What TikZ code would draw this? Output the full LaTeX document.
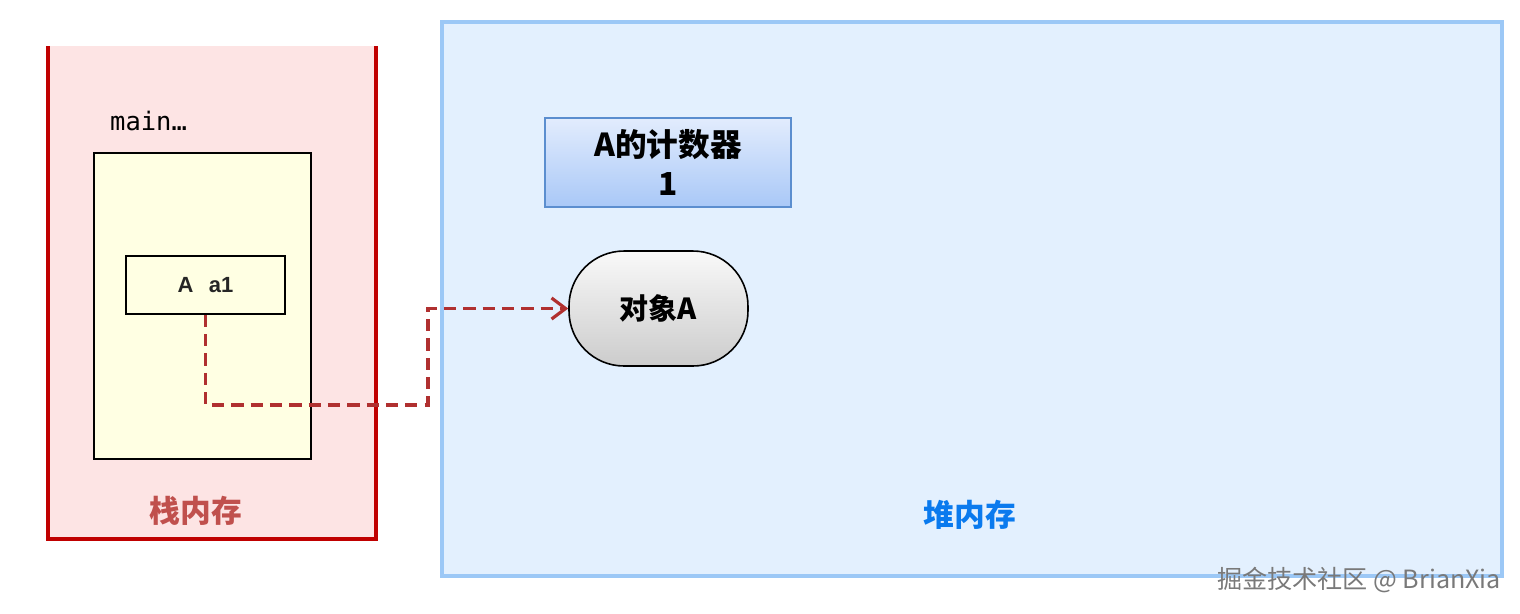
\documentclass[tikz,border=0pt]{standalone}
\usepackage{fontspec}
\usepackage{xcolor}
\newfontfamily\cjk{Noto Sans CJK SC}
\newfontfamily\codefont{DejaVu Sans Mono}
\newfontfamily\varfont{Liberation Sans}
\usetikzlibrary{arrows.meta}

\definecolor{stackfill}{HTML}{FDE4E4}
\definecolor{stackline}{HTML}{C00000}
\definecolor{stacktext}{HTML}{C0504D}
\definecolor{framefill}{HTML}{FFFFE3}
\definecolor{heapfill}{HTML}{E3F0FE}
\definecolor{heapline}{HTML}{9CC8F6}
\definecolor{heaptext}{HTML}{0A7AEE}
\definecolor{countertop}{HTML}{E2ECFD}
\definecolor{counterbot}{HTML}{A9C8F7}
\definecolor{counterline}{HTML}{5B8ECF}
\definecolor{linkred}{HTML}{B03030}

\begin{document}
\begin{tikzpicture}[x=0.02cm, y=-0.02cm, >={Straight Barb[length=8pt,width=12pt,line width=1.8pt]},
    memtext/.style={font=\cjk\bfseries\fontsize{17.5}{21}\selectfont},
    link/.style={->, linkred, line width=2.2pt, dash pattern=on 7pt off 4pt}]
\useasboundingbox (0,0) rectangle (1520,613);
% stack
\fill[stackfill] (48,46) rectangle (376,539);
\draw[stackline, line width=2.3pt] (48,46) -- (48,539) -- (376,539) -- (376,46);
\node[anchor=west, font=\codefont\fontsize{14.5}{17}\selectfont] (main) at (104,121) {main…};
\draw[fill=framefill, line width=0.9pt] (94,153) rectangle (311,459);
\node[draw, line width=0.9pt, fill=framefill, minimum width=3.18cm, minimum height=1.16cm,
      text=black!85, font=\varfont\bfseries\fontsize{12.5}{15}\selectfont] (a1) at (205.5,285) {A\hspace{0.7em}a1};
\node[memtext, text=stacktext] (stack) at (196,511) {栈内存};
% heap
\draw[heapline, fill=heapfill, line width=2.3pt] (442,22) rectangle (1502,576);
\node[memtext, text=heaptext] (heap) at (970,515) {堆内存};
\node[draw=counterline, line width=0.9pt, top color=countertop, bottom color=counterbot,
      minimum width=4.92cm, minimum height=1.78cm, align=center,
      font=\cjk\bfseries\fontsize{18}{22}\selectfont] (counter) at (668,162.5) {A的计数器\\1};
\node[draw, line width=0.9pt, top color=white!95!gray, bottom color=gray!40,
      rounded corners=1.1cm, minimum width=3.58cm, minimum height=2.3cm,
      font=\cjk\bfseries\fontsize{16.5}{20}\selectfont] (obj) at (658.5,308.5) {对象A};
% reference
\coordinate (bend) at (428,405);
\draw[link] (a1.south) |- (bend) |- (obj.west);
\node[text=gray!95!black, font=\cjk\fontsize{14.3}{17}\selectfont] (mark) at (1359,580) {掘金技术社区 @ BrianXia};
\end{tikzpicture}
\end{document}
